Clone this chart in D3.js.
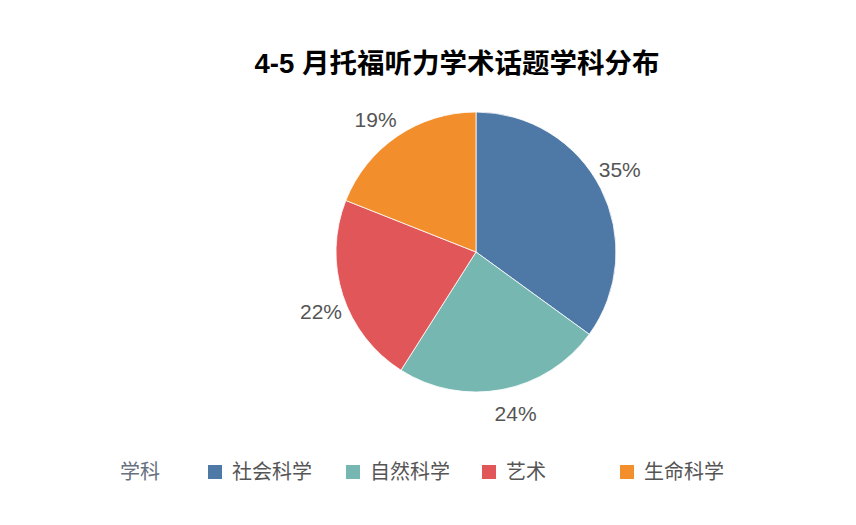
<!DOCTYPE html>
<html><head><meta charset="utf-8">
<script src="https://cdn.jsdelivr.net/npm/d3@7"></script>
<style>body{margin:0;background:#fff}svg{display:block}</style>
</head><body>
<svg id="c" width="856" height="525"></svg>
<script>
const categories = ["社会科学", "自然科学", "艺术", "生命科学"];
const values = [35, 24, 22, 19];
const colors = ["#4e79a7", "#76b7b2", "#e15759", "#f28e2b"];
const title = "4-5 月托福听力学术话题学科分布";
const legendTitle = "学科";

const svg = d3.select("#c");
const cx = 476, cy = 252, R = 140, LR = 166, labelShift = -3 * Math.PI / 180;

svg.append("text").attr("x", 457).attr("y", 73).attr("text-anchor", "middle")
  .attr("font-family", "'Liberation Sans','Noto Sans CJK SC',sans-serif")
  .attr("font-weight", "bold").attr("font-size", 27.5).attr("fill", "#000").text(title);

const pie = d3.pie().sort(null).value(d => d)(values);
const arc = d3.arc().innerRadius(0).outerRadius(R);
const g = svg.append("g").attr("transform", `translate(${cx},${cy})`);
g.selectAll("path").data(pie).join("path").attr("d", arc)
  .attr("fill", (d, i) => colors[i]).attr("stroke", "#fff").attr("stroke-width", 0.8);
g.selectAll("text").data(pie).join("text")
  .attr("transform", d => {
    const a = (d.startAngle + d.endAngle) / 2 + labelShift;
    return `translate(${LR * Math.sin(a)},${-LR * Math.cos(a)})`;
  })
  .attr("text-anchor", "middle").attr("dy", "0.36em")
  .attr("font-family", "'Liberation Sans',sans-serif").attr("font-size", 21).attr("fill", "#555")
  .text(d => d.data + "%");

const ly = 472;
const lf = "'Noto Sans CJK SC',sans-serif";
svg.append("text").attr("x", 120).attr("y", ly).attr("dy", "0.36em")
  .attr("font-family", lf).attr("font-size", 20).attr("fill", "#667080").text(legendTitle);
const legX = d3.scaleOrdinal().domain(categories).range([208, 346, 482, 620]);
const lg = svg.append("g").selectAll("g").data(categories).join("g")
  .attr("transform", d => `translate(${legX(d)},${ly})`);
lg.append("rect").attr("x", 0).attr("y", -7).attr("width", 14).attr("height", 14)
  .attr("fill", (d, i) => colors[i]);
lg.append("text").attr("x", 24).attr("dy", "0.36em").attr("font-family", lf)
  .attr("font-size", 20).attr("fill", "#555").text(d => d);
</script>
</body></html>
